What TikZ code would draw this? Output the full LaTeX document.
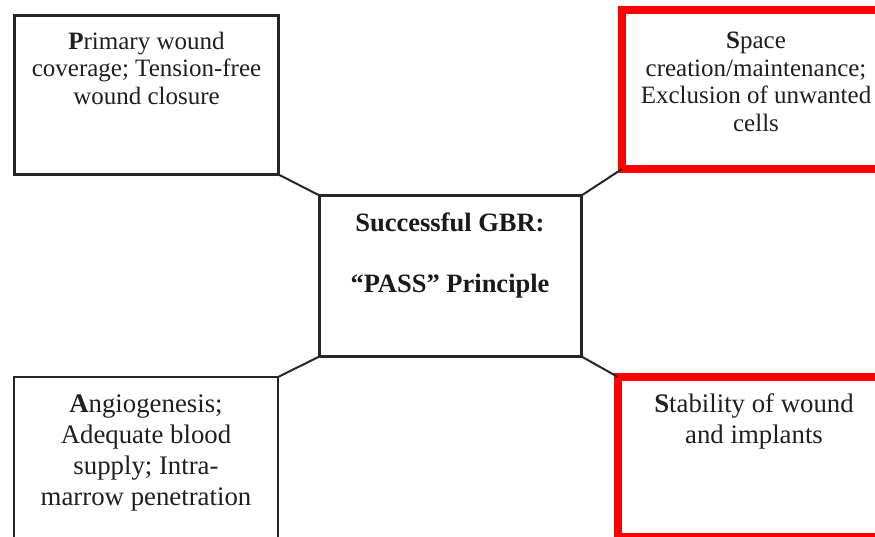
\documentclass[tikz,border=0pt]{standalone}
\usepackage{fontspec}
\setmainfont{Liberation Serif}
\begin{document}
\begin{tikzpicture}[x=1pt,y=-1pt,
  box/.style={draw=black!85, line width=2.4pt, rectangle, inner sep=0pt, outer sep=0pt},
  redbox/.style={draw=red, line width=8pt, rectangle, inner sep=0pt, outer sep=0pt},
  conn/.style={draw=black!85, line width=2pt},
  toptext/.style={anchor=north, inner sep=0pt, align=center, text=black!88,
    font=\fontsize{25}{27.6}\selectfont},
  bottext/.style={anchor=north, inner sep=0pt, align=center, text=black!88,
    font=\fontsize{26.8}{31}\selectfont},
  midtext/.style={anchor=north, inner sep=0pt, align=center, text=black!90,
    font=\fontsize{26.5}{29}\selectfont\bfseries}]
\useasboundingbox (0,0) rectangle (875,537);
\begin{scope}
\clip (0,0) rectangle (875,537);
% boxes
\node[box, minimum width=264pt, minimum height=159pt] (tl) at (146.5,95) {};
\node[redbox, minimum width=270pt, minimum height=159pt] (tr) at (757,89.5) {};
\node[box, minimum width=262pt, minimum height=161pt] (c) at (450.5,276) {};
\node[box, minimum width=264pt, minimum height=163pt] (bl) at (146,458.5) {};
\node[redbox, minimum width=272pt, minimum height=160pt] (br) at (754,457) {};
% connectors
\draw[conn] (tl.south east) -- (c.north west);
\draw[conn] (c.north east) -- (tr.south west);
\draw[conn] (c.south west) -- (bl.north east);
\draw[conn] (c.south east) -- (br.north west);
% texts
\node[toptext] (tltext) at (146.5,31.5) {\textbf{P}rimary wound\\coverage; Tension-free\\wound closure};
\node[toptext] (trtext) at (756,32) {\textbf{S}pace\\creation/maintenance;\\Exclusion of unwanted\\cells};
\node[bottext] (bltext) at (146,394.5) {\textbf{A}ngiogenesis;\\Adequate blood\\supply; Intra-\\marrow penetration};
\node[midtext] (ctext) at (450,213) {Successful GBR:\\[32pt]“PASS” Principle};
\node[bottext] (brtext) at (754,393) {\textbf{S}tability of wound\\and implants};
\end{scope}
\end{tikzpicture}
\end{document}
